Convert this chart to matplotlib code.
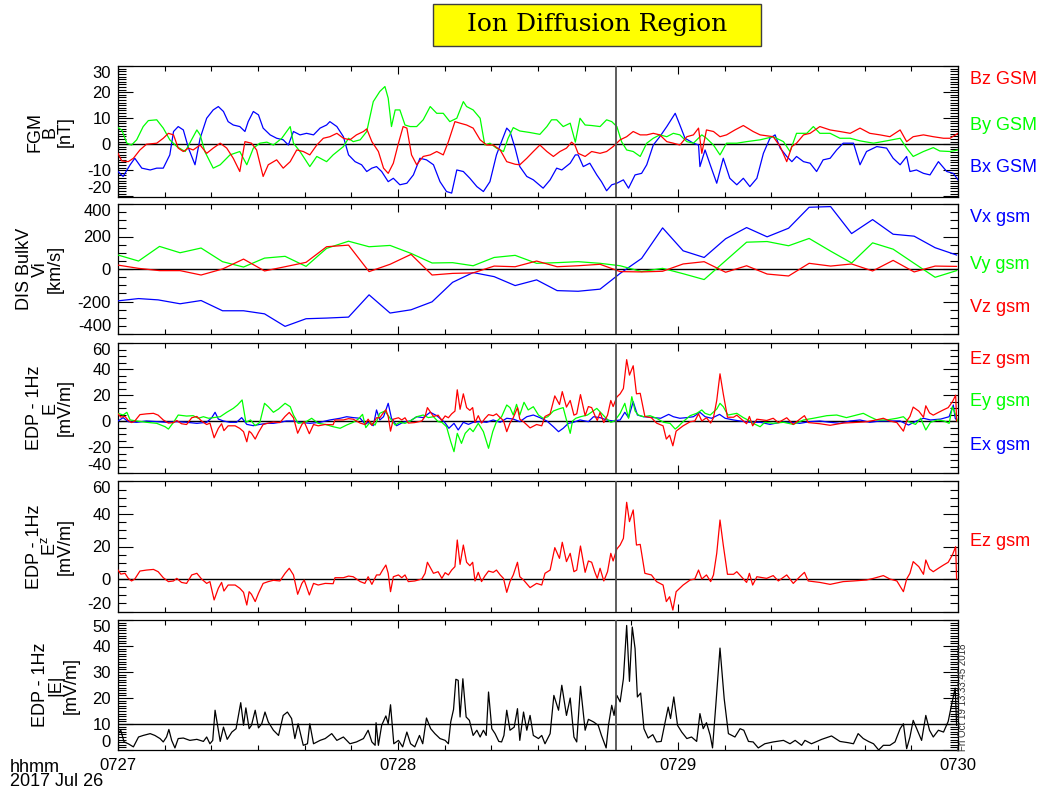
"""
MMS-style tplot stack: FGM B, DIS bulk V, EDP E, Ez and |E| (2017 Jul 26, 07:27-07:30)
"""

import numpy as np
import matplotlib
matplotlib.use('Agg')
import matplotlib.pyplot as plt
from matplotlib.ticker import MultipleLocator, FixedLocator
from matplotlib.patches import Rectangle

plt.rcParams['font.family'] = ['Liberation Sans', 'DejaVu Sans']

# time axis: seconds after 07:27:00
tick_secs = [0, 60, 120, 180]
tick_labels = ['0727', '0728', '0729', '0730']
event_sec = 106.7

# FGM B (nT), (t, value)
bz_gsm = [(0, -3.5), (0.8, -6.4), (2.2, -6.7), (3.3, -5.4), (4.7, -2.2), (6.1, 0.0), (8.3, 0.4), (9.7, 2.3),
          (10.8, 4.2), (11.9, 3.6), (12.9, -1.5), (14.0, -2.8), (15.1, -1.5), (16.1, -2.2), (17.6, -0.3),
          (19.0, -3.5), (20.4, -1.5), (21.9, 0.4), (23.3, -1.5), (24.7, -5.4), (26.1, -10.5), (27.2, 1.0),
          (28.6, 0.4), (29.7, -2.2), (31.1, -12.4), (32.2, -7.9), (34.0, -6.0), (35.4, -9.2), (36.9, -6.7),
          (38.3, -2.2), (39.7, -2.8), (41.1, -4.1), (42.6, -0.3), (44.0, 2.3), (45.4, 2.9), (46.9, 4.2),
          (48.3, 2.3), (49.7, 1.7), (51.1, 3.6), (52.6, 4.9), (53.3, 5.9), (54.4, 1.0), (55.8, -2.8),
          (56.9, -9.2), (57.9, -11.2), (59.0, -7.3), (60.1, 0.4), (61.1, 6.8), (61.9, 6.2), (62.9, -4.1),
          (64.0, -7.9), (65.4, -4.7), (66.9, -4.1), (68.3, -2.8), (69.7, -4.1), (70.8, 1.0), (72.2, 8.7),
          (73.3, 8.1), (74.7, 7.4), (76.1, 6.2), (77.6, 1.7), (79.0, -0.3), (80.4, -0.3), (81.9, -2.2),
          (83.3, -6.7), (85.1, -7.7), (86.1, -7.9), (87.6, -5.4), (89.0, -2.8), (90.4, -0.3), (91.9, -2.8),
          (93.3, -4.7), (94.7, -2.8), (96.1, -1.5), (97.2, 0.8), (97.9, -0.3), (98.6, -3.5), (100.1, -4.7),
          (101.5, -2.8), (103.3, -3.5), (104.7, -2.8), (106.1, -0.9), (107.6, 1.7), (109.0, 2.9),
          (110.4, 4.9), (111.9, 3.6), (113.3, 3.6), (114.7, 4.2), (116.1, 3.6), (117.6, 1.0), (119.0, 0.4),
          (120.4, -0.3), (121.9, 2.9), (123.3, 3.6), (124.4, 6.2), (125.1, -3.5), (126.1, 5.5), (127.6, 4.9),
          (129.0, 2.9), (130.4, 3.6), (132.2, 5.5), (134.0, 7.2), (136.1, 4.9), (137.6, 3.6), (140.4, 2.9),
          (141.9, -0.9), (143.3, -6.7), (144.4, -0.9), (145.4, 0.4), (146.9, 3.6), (148.3, 4.2),
          (150.4, 6.8), (152.6, 5.5), (154.7, 4.9), (156.9, 4.2), (159.0, 6.2), (161.1, 4.2), (163.3, 3.6),
          (165.4, 2.9), (167.6, 5.5), (169.0, 1.0), (170.4, 2.9), (172.6, 3.6), (174.7, 2.9), (176.9, 2.3),
          (178.3, 2.3), (180.0, 4.2)]

by_gsm = [(0, 6.4), (0.8, 5.5), (1.9, 0.4), (2.9, -0.3), (4.0, 1.7), (5.4, 6.8), (6.5, 9.1), (8.3, 9.4),
          (9.7, 6.2), (11.1, 1.7), (12.6, -0.9), (14.4, -2.8), (16.9, 5.5), (17.6, 3.6), (18.6, -2.8),
          (20.4, -9.2), (21.9, -7.9), (24.0, -4.1), (26.1, -2.8), (27.6, -7.9), (29.0, -1.5), (30.4, 0.4),
          (31.9, 0.8), (33.3, -0.3), (35.1, 2.3), (36.9, 6.8), (37.6, 0.4), (39.0, -2.8), (41.1, -8.6),
          (42.6, -4.7), (44.7, -6.7), (46.1, -4.1), (48.3, -0.9), (49.4, 2.3), (50.4, 1.0), (51.9, 1.7),
          (53.3, 4.9), (54.7, 16.4), (56.1, 20.3), (57.2, 22.2), (57.9, 17.7), (58.6, 6.8), (59.4, 13.2),
          (60.4, 13.2), (61.5, 7.4), (62.6, 6.8), (64.0, 6.8), (65.4, 9.4), (66.9, 14.5), (68.3, 11.9),
          (69.7, 11.9), (71.1, 8.7), (72.6, 10.0), (74.0, 16.4), (74.7, 14.5), (76.1, 13.2), (77.6, 10.0),
          (78.6, -0.3), (79.7, 0.4), (81.1, -1.5), (82.6, -2.8), (83.6, 2.3), (84.7, 6.4), (86.1, 5.1),
          (88.3, 4.5), (90.4, 3.8), (91.9, 6.8), (92.9, 9.4), (94.0, 9.4), (95.4, 6.8), (96.9, 8.1),
          (98.0, 0.8), (99.0, 10.0), (100.1, 7.4), (101.5, 7.2), (103.3, 6.8), (104.7, 9.4), (105.8, 8.7),
          (106.9, 6.8), (107.9, 1.0), (109.0, -2.2), (110.4, -2.8), (111.9, -4.7), (113.3, 0.4),
          (114.7, 2.3), (116.1, 3.6), (117.6, 2.9), (119.0, 4.2), (120.4, 3.6), (121.9, 1.0), (123.3, 0.4),
          (125.1, 3.6), (126.1, 2.3), (127.6, -0.3), (129.0, -4.1), (130.4, 0.4), (132.6, 0.4), (134.7, 1.0),
          (137.6, 1.7), (140.4, 2.9), (142.6, 1.0), (144.0, -2.8), (145.4, 4.2), (147.6, 4.2), (149.0, 6.8),
          (150.4, 4.2), (152.6, 4.2), (154.7, 2.3), (156.9, 2.3), (159.0, 1.3), (161.9, 0.4), (164.7, 1.3),
          (167.6, 2.3), (169.0, -1.5), (170.4, -4.7), (172.6, -2.8), (174.7, -1.3), (176.1, -2.6),
          (178.3, -2.8), (180.0, -2.2)]

bx_gsm = [(0, -10.5), (1.1, -12.4), (2.6, -7.9), (3.6, -5.4), (5.1, -9.2), (6.9, -9.9), (8.3, -9.2),
          (9.7, -9.2), (11.1, -4.1), (11.9, 4.9), (12.9, 6.8), (14.0, 5.5), (15.1, -1.5), (16.5, -7.9),
          (17.6, 2.3), (19.0, 10.0), (20.4, 13.2), (21.5, 14.5), (22.6, 12.6), (23.6, 8.7), (24.7, 7.4),
          (26.1, 6.8), (27.2, 4.9), (27.9, 8.7), (29.0, 12.6), (30.1, 11.3), (31.1, 6.2), (32.6, 3.6),
          (34.0, 2.3), (35.4, 1.7), (36.5, -0.3), (37.6, 4.9), (39.0, 3.6), (40.4, 4.2), (41.9, 3.6),
          (43.3, 6.2), (44.7, 7.4), (45.4, 8.7), (46.9, 6.8), (48.3, 2.9), (49.4, -4.1), (50.8, -6.7),
          (52.2, -7.9), (53.3, -10.5), (54.4, -9.2), (55.4, -8.6), (56.5, -10.5), (57.9, -14.4),
          (59.0, -13.1), (60.4, -15.6), (61.9, -15.0), (63.3, -11.8), (64.7, -5.4), (66.1, -6.0),
          (67.6, -7.9), (69.0, -14.4), (70.4, -18.2), (71.5, -18.8), (72.6, -9.9), (74.0, -10.5),
          (75.4, -13.1), (76.9, -16.3), (78.3, -18.2), (79.7, -14.4), (81.1, -4.1), (81.9, -0.3), (83.3, 6.2),
          (84.0, 4.9), (85.1, -1.5), (86.1, -8.6), (87.6, -12.4), (89.0, -13.7), (91.1, -16.9),
          (92.6, -13.7), (94.0, -9.2), (95.1, -9.9), (96.9, -7.3), (98.0, -4.1), (98.6, -4.1), (99.7, -8.6),
          (101.1, -7.3), (102.6, -11.8), (103.6, -14.4), (104.7, -17.9), (105.8, -15.6), (106.9, -15.0),
          (108.3, -13.7), (109.4, -16.9), (110.8, -11.8), (112.2, -11.2), (113.3, -7.9), (114.7, -0.3),
          (116.1, 2.9), (117.6, 6.8), (119.4, 11.9), (120.4, 7.4), (121.5, 2.3), (123.3, 0.4), (124.4, -0.3),
          (124.7, -8.6), (125.8, -2.2), (126.9, -7.9), (128.3, -15.0), (129.7, -5.4), (131.1, -13.1),
          (132.6, -15.6), (134.0, -13.1), (135.4, -16.3), (136.9, -13.1), (138.3, -3.5), (139.7, 2.3),
          (140.8, 3.6), (141.9, -1.5), (143.3, -4.7), (144.4, -6.7), (145.4, -4.7), (146.9, -6.7),
          (148.3, -7.3), (149.7, -10.5), (151.1, -6.0), (152.6, -5.4), (154.0, -2.2), (155.4, 0.4),
          (157.6, 0.4), (159.0, -7.9), (160.4, -2.8), (162.6, -0.9), (164.7, -1.5), (166.1, -5.4),
          (167.6, -7.9), (169.0, -4.7), (169.7, -10.5), (171.1, -9.9), (172.6, -11.2), (174.0, -11.8),
          (175.8, -6.7), (177.6, -10.5), (179.0, -11.2), (180.0, -13.7)]

# DIS bulk velocity (km/s)
vx_gsm = [(0, -196), (4.4, -182), (8.6, -190), (13.3, -214), (17.8, -194), (22.4, -257), (26.9, -257),
          (31.4, -276), (35.8, -353), (40.3, -306), (44.7, -302), (49.4, -296), (53.8, -159), (58.3, -271),
          (62.8, -251), (67.3, -202), (71.7, -82), (76.1, -22), (80.6, -47), (85.1, -102), (89.7, -67),
          (94.1, -133), (98.6, -137), (103.3, -124), (107.6, -27), (112.2, 65), (116.7, 253), (121.1, 112),
          (125.6, 71), (130.2, 186), (134.7, 255), (139.1, 198), (143.7, 251), (148.1, 380), (152.7, 384),
          (157.2, 218), (161.7, 304), (166.1, 214), (170.6, 202), (175.1, 131), (179.7, 86)]
vy_gsm = [(0, 86), (4.4, 49), (8.9, 139), (13.3, 100), (17.8, 129), (22.4, 45), (26.9, 12), (31.4, 67),
          (35.8, 78), (40.3, 16), (44.7, 127), (49.4, 171), (53.8, 137), (58.3, 145), (62.8, 96), (67.3, 37),
          (71.7, 39), (76.1, 20), (80.6, 71), (85.1, 84), (89.7, 35), (94.1, 39), (98.6, 45), (103.3, 35),
          (107.6, 20), (112.2, -16), (116.7, 4), (121.1, -29), (125.6, -65), (130.2, 51), (134.7, 165),
          (139.1, 169), (143.7, 143), (148.1, 188), (152.7, 110), (157.2, 37), (161.7, 161), (166.1, 122),
          (170.6, 35), (175.1, -51), (179.7, -10)]
vz_gsm = [(0, 24), (4.4, 4), (8.9, -10), (13.3, -10), (17.8, -37), (22.4, 0), (26.9, 61), (31.4, -12),
          (35.8, 14), (40.3, 41), (44.7, 137), (49.4, 147), (53.8, -16), (58.3, 29), (62.8, 90), (67.3, -37),
          (71.7, -27), (76.1, -24), (80.6, 18), (85.1, 14), (89.7, 49), (94.1, 14), (98.6, 20), (103.3, 29),
          (107.6, -16), (112.2, -18), (116.7, -14), (121.1, 31), (125.6, 45), (130.2, -20), (134.7, 20),
          (139.1, -31), (143.7, -43), (148.1, 35), (152.7, 18), (157.2, 31), (161.7, -12), (166.1, 53),
          (170.6, -18), (175.1, 18), (179.7, 16)]

# EDP electric field (mV/m)
ez_gsm = [(0, 5.5), (0.6, 3.0), (1.5, 3.5), (2.2, 0.4), (2.9, -1.2), (3.6, 0.0), (4.7, 4.9), (6.1, 5.5),
          (7.6, 5.9), (8.6, 4.5), (9.7, 0.8), (10.8, -1.6), (11.9, -1.2), (12.6, 0.4), (13.6, -2.1),
          (14.7, -2.7), (15.8, 2.5), (16.9, 3.5), (17.9, 0.0), (19.0, -2.7), (19.7, -1.6), (20.6, -12.9),
          (21.5, -5.7), (22.2, -2.1), (22.7, -7.4), (23.6, -3.7), (25.1, -3.7), (26.1, -5.7), (26.9, -8.2),
          (27.6, -16.0), (28.1, -7.8), (28.6, -9.4), (29.4, -13.9), (30.1, -8.8), (31.1, -2.7), (32.2, -1.6),
          (33.3, -0.8), (34.7, -1.2), (35.8, 3.5), (36.7, 6.6), (37.6, 2.5), (38.5, -9.4), (39.4, -2.7),
          (39.9, -0.6), (41.0, -9.8), (41.9, -2.7), (42.9, -3.7), (44.4, -2.7), (46.1, -2.9), (46.5, 0.8),
          (48.3, 0.8), (49.4, 1.8), (50.4, 1.4), (51.9, -1.6), (52.9, -2.7), (53.6, 1.4), (54.4, -3.3),
          (55.4, 2.5), (56.1, 2.5), (56.7, 5.5), (57.4, 8.6), (57.9, 3.5), (58.4, -7.8), (59.0, 1.4),
          (60.1, 2.5), (60.8, 0.8), (61.5, 2.5), (62.2, -1.6), (63.6, -1.2), (65.1, 0.0), (65.8, 3.5),
          (66.3, 10.3), (67.0, 6.6), (67.6, 3.5), (68.6, 4.5), (69.4, 0.4), (70.1, 3.9), (70.8, 2.5),
          (71.5, 5.5), (72.2, 7.6), (72.7, 24.0), (73.3, 9.0), (74.0, 20.9), (74.7, 10.3), (75.4, 8.2),
          (76.0, 10.3), (76.5, -1.2), (77.2, 4.1), (77.9, -1.6), (78.6, 1.8), (79.4, 4.9), (80.4, 4.1),
          (81.1, 5.5), (81.9, 2.5), (82.6, 0.4), (83.3, -8.2), (84.0, -1.6), (84.7, 2.5), (85.6, 10.3),
          (86.1, 1.4), (86.9, -0.6), (88.3, -5.3), (89.7, -2.7), (90.8, -3.7), (91.5, 3.5), (92.6, 5.5),
          (93.6, 19.3), (94.6, 12.7), (95.2, 22.6), (96.1, 10.7), (96.9, 15.8), (97.7, 4.5), (98.3, 5.5),
          (99.1, 20.3), (100.1, 4.1), (100.8, 11.1), (101.5, 10.3), (102.2, 4.1), (102.7, 0.4), (103.3, 6.6),
          (104.1, -1.2), (104.9, 4.5), (105.6, 15.8), (106.1, 11.1), (106.9, 18.5), (107.6, 20.9),
          (108.3, 25.0), (109.0, 47.2), (109.6, 35.3), (110.4, 42.5), (111.1, 20.9), (111.9, 21.3),
          (112.9, 3.5), (114.3, 2.5), (115.4, -1.6), (116.8, -3.7), (117.5, -13.9), (118.2, -10.9),
          (118.9, -19.1), (119.6, -7.8), (121.1, -3.7), (122.6, -0.6), (123.6, 0.0), (124.4, 5.5),
          (125.1, 0.0), (126.1, 2.5), (127.0, -1.6), (127.6, 2.5), (128.3, 15.8), (129.0, 36.3),
          (129.7, 20.9), (130.6, 2.9), (131.9, 2.9), (132.6, 4.5), (133.6, 1.4), (134.7, -2.1), (135.3, 3.5),
          (136.0, -3.7), (136.9, 1.4), (139.0, 0.4), (140.4, 2.1), (141.5, -1.2), (143.3, 2.5), (144.7, -2.7),
          (146.1, 1.4), (147.1, 4.1), (147.9, -1.2), (150.4, -2.1), (152.6, -3.3), (155.4, -1.6),
          (157.6, -1.2), (160.4, -0.6), (161.9, 0.4), (164.0, 2.1), (165.4, 0.0), (166.9, -1.2),
          (168.3, -7.8), (169.0, 0.0), (169.7, 3.5), (170.4, 10.7), (171.6, 7.6), (172.6, 2.9), (173.1, 11.7),
          (173.9, 6.2), (174.7, 4.5), (175.8, 6.6), (176.9, 8.6), (177.9, 10.3), (178.8, 14.8), (179.5, 19.9),
          (179.7, 0.0)]

ey_gsm = [(0, 5.9), (1.1, 4.6), (1.9, 6.7), (2.6, 0.8), (4.0, 0.0), (6.1, -1.0), (8.3, -1.8), (10.1, -4.4),
          (10.8, -6.2), (11.9, -1.0), (12.9, 4.6), (14.7, 3.8), (16.1, 4.1), (17.2, 2.1), (18.3, 3.3),
          (19.4, 2.1), (20.4, 2.6), (21.9, 3.3), (23.3, 6.7), (24.7, 9.7), (25.6, 12.3), (26.6, 16.2),
          (27.4, -1.0), (28.4, 0.8), (29.4, -3.6), (30.4, -1.0), (31.4, 13.6), (32.2, 11.0), (33.3, 6.7),
          (34.4, 9.2), (35.8, 13.6), (36.9, 11.0), (37.6, 4.6), (38.6, -1.8), (40.1, -1.0), (41.5, 2.1),
          (42.9, -1.8), (44.4, -2.6), (46.1, -4.4), (47.6, -5.6), (49.0, -3.1), (50.4, -1.0), (51.5, 1.5),
          (52.4, 5.1), (53.1, -5.1), (54.0, -1.0), (55.1, -3.1), (56.1, 5.9), (57.2, 7.7), (58.3, 2.1),
          (59.4, -3.1), (60.4, -1.0), (61.5, -1.8), (62.6, 0.0), (64.0, 3.3), (65.4, 4.6), (66.5, 2.6),
          (67.6, 3.3), (68.6, -0.5), (69.4, -1.0), (70.4, -4.4), (71.3, -15.9), (72.0, -23.6), (72.7, -9.5),
          (73.6, -17.2), (74.4, -9.5), (75.4, -5.6), (76.1, -8.2), (77.2, -1.8), (78.3, -8.2), (79.4, -21.0),
          (80.3, -8.2), (81.1, -0.5), (82.2, 3.3), (83.3, 12.3), (84.0, 10.3), (84.7, 4.6), (85.4, 12.8),
          (86.1, 4.6), (87.0, 14.4), (87.9, 8.5), (89.0, 11.0), (90.1, 4.6), (91.1, 2.1), (92.1, 3.3),
          (93.3, 7.7), (94.4, 9.2), (95.4, 10.3), (96.1, 0.8), (96.9, -9.5), (97.4, 0.0), (98.1, 2.1),
          (99.1, 3.3), (100.6, 4.6), (101.6, 7.2), (102.6, 9.7), (103.6, 5.9), (104.6, 2.1), (105.6, -1.0),
          (106.4, 0.0), (107.6, 5.9), (108.6, 13.6), (109.4, 2.1), (110.1, 18.7), (110.8, 7.7), (111.5, 4.6),
          (112.6, 3.3), (114.0, 4.1), (115.4, 2.1), (116.9, -1.0), (118.3, -1.8), (119.4, -6.2),
          (120.0, -4.4), (121.1, -0.5), (122.6, 4.1), (124.0, 5.9), (125.1, 8.5), (125.8, 5.9), (126.9, 4.6),
          (128.3, 9.2), (129.0, 13.6), (129.7, 11.0), (130.7, 4.6), (132.6, 5.9), (134.0, 2.6), (135.4, 0.0),
          (136.1, -1.8), (137.6, -4.4), (138.6, -1.0), (140.4, -1.8), (142.6, -1.0), (144.7, -2.6),
          (146.9, 0.8), (149.0, 2.1), (151.9, 4.1), (154.0, 4.6), (156.1, 2.6), (158.3, 4.6), (159.7, 5.9),
          (161.1, 3.3), (162.6, 0.8), (164.7, 0.8), (166.9, 2.1), (168.3, 3.3), (169.4, -0.5), (170.9, -2.6),
          (172.0, 2.1), (173.1, -6.9), (174.1, -1.0), (175.6, 0.8), (177.0, 0.0), (178.1, -1.8), (178.8, 11.0),
          (179.5, 4.6), (179.9, 0.0)]

ex_gsm = [(0, 0.0), (1.1, 2.6), (2.2, -0.5), (4.0, -1.0), (6.1, 0.0), (8.3, -0.5), (10.4, -1.0), (12.6, -0.5),
          (14.7, -1.0), (16.9, -1.8), (19.0, -1.0), (20.1, 2.6), (20.8, 6.7), (21.5, 1.5), (22.6, 0.0),
          (24.0, -1.0), (25.4, -1.0), (26.5, 2.6), (27.6, -2.6), (29.0, -3.6), (30.4, -2.6), (31.9, -1.8),
          (33.3, -1.8), (34.7, -1.0), (36.1, 0.0), (37.6, 0.0), (39.0, -1.0), (41.1, -1.8), (43.3, -1.0),
          (45.4, 0.8), (47.6, 2.1), (49.0, 3.3), (50.4, 2.6), (51.9, 2.1), (53.0, -2.6), (53.6, -1.0),
          (54.7, -3.6), (55.4, 8.5), (56.1, 0.8), (56.9, 3.3), (57.9, 13.6), (58.6, 2.1), (59.7, -3.6),
          (61.1, -1.0), (62.6, 0.0), (64.0, 3.3), (65.4, 2.6), (66.9, 6.7), (68.3, 4.1), (70.0, -1.0),
          (70.9, -5.6), (72.0, -1.8), (72.9, -6.9), (74.0, -1.0), (75.1, -2.6), (76.1, -1.0), (77.6, -0.5),
          (79.0, -1.0), (80.4, 0.8), (81.9, -1.0), (83.3, 2.1), (84.7, 1.5), (86.1, -0.5), (87.6, 3.3),
          (89.0, 4.6), (90.4, 2.6), (91.9, 0.0), (93.3, -4.4), (94.4, -8.2), (95.4, -5.6), (96.5, -1.8),
          (97.6, -1.0), (99.0, 0.8), (100.8, -0.5), (101.9, 3.3), (103.3, 2.6), (104.7, 0.8), (106.1, 0.0),
          (107.6, 0.8), (108.6, 6.7), (109.4, 2.6), (110.4, 14.9), (111.3, 4.6), (112.6, 3.3), (114.9, 2.6),
          (116.3, 2.1), (118.0, 5.1), (119.0, 3.3), (120.4, 2.1), (121.9, 2.6), (123.3, 3.3), (124.7, 6.7),
          (125.8, 3.3), (127.2, 2.1), (128.9, 5.1), (130.1, 2.1), (131.9, 0.8), (133.3, 0.0), (135.4, -1.0),
          (137.6, -1.0), (139.7, -2.6), (141.9, -1.0), (144.0, -1.0), (146.1, -1.8), (148.3, -0.5),
          (150.4, 0.0), (152.6, -1.0), (154.7, -1.8), (156.9, 0.0), (159.0, 0.8), (161.1, -1.0), (163.3, 0.0),
          (165.4, 0.0), (167.6, 0.0), (169.4, -3.1), (171.1, 0.0), (172.6, 2.1), (174.1, 0.8), (176.3, 1.5),
          (178.1, 3.3), (179.0, 12.3), (179.4, 2.1), (179.9, 0.0)]

e_mag = [(0, 6.3), (0.6, 7.6), (1.3, 3.1), (2.2, 2.4), (3.3, 1.2), (4.4, 5.0), (5.4, 5.6), (6.9, 6.3),
         (7.9, 5.6), (9.0, 4.4), (9.7, 3.1), (10.4, 5.0), (10.9, 7.9), (11.5, 3.7), (12.2, 0.8), (12.9, 4.4),
         (14.0, 4.6), (15.4, 3.7), (16.9, 4.1), (18.3, 3.3), (19.0, 5.0), (19.7, 2.4), (20.3, 3.7),
         (20.8, 15.3), (21.5, 7.6), (21.9, 3.3), (22.6, 8.8), (23.4, 4.1), (24.4, 6.9), (25.3, 8.2),
         (26.3, 18.2), (26.9, 9.5), (27.4, 16.2), (28.1, 8.2), (28.6, 9.5), (29.4, 15.3), (30.1, 8.5),
         (30.8, 10.1), (31.5, 14.6), (32.2, 10.8), (33.3, 7.6), (34.4, 5.6), (35.4, 13.3), (36.3, 14.6),
         (37.2, 12.1), (37.9, 4.4), (38.6, 10.1), (39.7, 1.8), (40.6, 2.4), (41.1, 10.1), (41.9, 2.4),
         (43.3, 3.7), (44.4, 4.4), (45.8, 6.3), (46.9, 3.7), (48.3, 5.0), (49.7, 2.4), (51.1, 3.1),
         (52.6, 4.4), (53.6, 7.6), (54.4, 3.1), (55.1, 1.8), (55.3, 10.5), (55.8, 1.8), (56.5, 9.5),
         (57.4, 13.1), (57.9, 10.1), (58.4, 17.4), (59.1, 2.4), (60.1, 3.7), (61.0, 1.2), (61.9, 6.9),
         (62.7, 2.4), (63.6, 1.2), (64.6, 5.6), (65.3, 2.4), (66.1, 12.3), (67.0, 8.2), (67.9, 6.3),
         (69.0, 4.4), (70.1, 3.7), (70.8, 2.4), (71.3, 10.8), (71.9, 15.6), (72.4, 27.2), (72.9, 26.8),
         (73.3, 12.7), (73.9, 27.4), (74.6, 12.7), (75.3, 11.4), (76.1, 5.6), (76.9, 7.6), (77.6, 5.0),
         (78.3, 7.6), (78.9, 5.6), (79.4, 22.3), (80.1, 8.2), (80.8, 6.3), (81.6, 3.3), (82.2, 3.1),
         (82.7, 5.6), (83.3, 15.3), (84.0, 7.6), (84.9, 8.8), (85.6, 15.9), (86.1, 3.7), (86.9, 14.6),
         (87.6, 7.6), (88.3, 13.3), (89.0, 5.6), (90.1, 4.4), (90.8, 5.6), (91.5, 2.4), (92.6, 6.3),
         (93.4, 21.0), (94.4, 15.3), (95.1, 24.9), (96.1, 13.3), (96.9, 20.0), (97.7, 5.0), (98.3, 3.1),
         (99.1, 24.5), (100.1, 7.6), (100.8, 11.8), (101.9, 10.8), (102.9, 9.5), (103.6, 5.6), (104.6, 0.8),
         (105.1, 9.5), (105.8, 17.2), (106.3, 13.3), (106.9, 21.0), (107.6, 18.5), (108.3, 27.4),
         (109.0, 47.9), (109.6, 26.4), (110.2, 47.3), (110.8, 39.0), (111.3, 20.4), (112.0, 21.9),
         (112.7, 8.2), (113.6, 4.6), (114.6, 5.9), (115.4, 3.1), (116.4, 3.3), (117.1, 9.5), (117.9, 16.5),
         (118.4, 12.1), (119.1, 20.4), (119.9, 9.5), (120.8, 6.9), (121.9, 4.4), (122.9, 5.0), (124.0, 3.3),
         (124.7, 14.0), (125.4, 8.2), (126.1, 10.5), (126.9, 5.6), (127.4, 0.8), (128.1, 17.2),
         (129.0, 39.2), (129.9, 19.7), (130.8, 6.3), (132.2, 5.0), (133.3, 8.2), (134.1, 7.6), (135.1, 3.3),
         (136.1, 3.1), (137.2, 0.8), (138.6, 2.4), (140.4, 3.1), (142.6, 3.7), (144.0, 2.4), (145.1, 3.7),
         (146.5, 1.8), (147.2, 3.7), (148.6, 2.4), (150.8, 4.1), (152.9, 5.4), (154.7, 3.3), (156.5, 2.8),
         (157.6, 2.4), (158.6, 6.3), (159.7, 4.4), (160.8, 3.3), (161.9, 2.4), (163.0, 0.0), (164.0, 1.8),
         (165.4, 1.8), (166.5, 3.1), (167.6, 8.2), (168.3, 10.1), (169.0, 0.5), (169.7, 5.0), (170.4, 11.4),
         (171.3, 7.6), (172.2, 3.7), (173.1, 13.3), (173.9, 7.6), (174.7, 5.0), (175.8, 7.6), (176.9, 6.9),
         (177.9, 11.0), (178.6, 17.2), (179.4, 23.8), (179.7, 9.5)]

RED, GREEN, BLUE = '#ff0000', '#00ff00', '#0000ff'

panels = [
    # (series, ylim, major ticks, minor step, ref line, ylabel, label x px, legend)
    ([(bx_gsm, BLUE), (by_gsm, GREEN), (bz_gsm, RED)], (-20.3, 30.1), [-20, -10, 0, 10, 20, 30], 1, 0,
     'FGM\nB\n[nT]', 50, [('Bz GSM', RED), ('By GSM', GREEN), ('Bx GSM', BLUE)]),
    ([(vx_gsm, BLUE), (vy_gsm, GREEN), (vz_gsm, RED)], (-400, 400), [-400, -200, 0, 200, 400], 50, 0,
     'DIS BulkV\nVi\n[km/s]', 40, [('Vx gsm', BLUE), ('Vy gsm', GREEN), ('Vz gsm', RED)]),
    ([(ex_gsm, BLUE), (ey_gsm, GREEN), (ez_gsm, RED)], (-40, 60), [-40, -20, 0, 20, 40, 60], 5, 0,
     'EDP - 1Hz\nE\n[mV/m]', 50, [('Ez gsm', RED), ('Ey gsm', GREEN), ('Ex gsm', BLUE)]),
    ([(ez_gsm, RED)], (-20.3, 60.3), [-20, 0, 20, 40, 60], 5, 0,
     'EDP - 1Hz\nE$^{\\mathregular{z}}$\n[mV/m]', 50, [('Ez gsm', RED)]),
    ([(e_mag, 'black')], (0, 50), [0, 10, 20, 30, 40, 50], 1, 10,
     'EDP - 1Hz\n|E|\n[mV/m]', 56, []),
]

# panel extents in pixels (top, bottom)
extents = [(66, 197), (204, 334), (343, 473), (481, 612), (620, 750)]
legend_y = [[80, 126, 168], [218, 265, 307], [359, 402, 446], [541], []]

W, H = 1042, 795
fig = plt.figure(figsize=(W / 100, H / 100), dpi=100)
x0, x1 = 118, 958

for i, (series, ylim, yticks, minor, ref, ylabel, lx, legend) in enumerate(panels):
    top, bot = extents[i]
    ax = fig.add_axes([x0 / W, 1 - bot / H, (x1 - x0) / W, (bot - top) / H])
    for data, color in series:
        t, v = zip(*data)
        ax.plot(t, v, color=color, lw=0.9, zorder=3)
    ax.axhline(ref, color='black', lw=1.0, zorder=2)
    ax.axvline(event_sec, color='#505050', lw=1.3, zorder=4)
    ax.set_xlim(0, 180)
    ax.set_ylim(*ylim)
    ax.xaxis.set_major_locator(FixedLocator(tick_secs))
    ax.xaxis.set_minor_locator(MultipleLocator(10))
    ax.set_yticks(yticks)
    ax.set_yticklabels([str(v) for v in yticks])
    ax.yaxis.set_minor_locator(MultipleLocator(minor))
    ax.tick_params(axis='both', which='both', direction='in', top=True, right=True,
                   color='black', width=0.8)
    ax.tick_params(axis='y', which='major', length=11, labelsize=12, pad=5)
    ax.tick_params(axis='y', which='minor', length=5.5)
    ax.tick_params(axis='x', which='major', length=6)
    ax.tick_params(axis='x', which='minor', length=3.5)
    # end labels pulled inside the panel, as IDL does
    ylabs = ax.get_yticklabels()
    ylabs[0].set_va('bottom')
    ylabs[-1].set_va('top')
    if i == len(panels) - 1:
        ax.set_xticklabels(tick_labels)
        ax.tick_params(axis='x', which='major', labelsize=12, pad=6)
    else:
        ax.set_xticklabels([])
    for sp in ax.spines.values():
        sp.set_linewidth(0.9)
    fig.text(lx / W, 1 - (top + bot) / 2 / H, ylabel, rotation=90, ha='center', va='center',
             multialignment='center', fontsize=13, linespacing=0.85)
    for (txt, col), ly in zip(legend, legend_y[i]):
        fig.text(970 / W, 1 - ly / H, txt, color=col, fontsize=13, ha='left', va='center')

# title box
fig.patches.append(Rectangle((433 / W, 1 - 46 / H), 328 / W, 42 / H, transform=fig.transFigure,
                             facecolor='#ffff00', edgecolor='#404040', lw=1.0, zorder=1))
fig.text(597 / W, 1 - 25 / H, 'Ion Diffusion Region', family='DejaVu Serif', fontsize=18,
         ha='center', va='center', zorder=2)

fig.text(10 / W, 1 - 767 / H, 'hhmm', fontsize=13, ha='left', va='center')
fig.text(10 / W, 1 - 782 / H, '2017 Jul 26', fontsize=13, ha='left', va='center')
fig.text(963 / W, 1 - 697 / H, 'Fri Oct 19 13:33:45 2018', fontsize=7, rotation=90,
         ha='center', va='center', color='#333333')

fig.savefig('out.png', dpi=100)
